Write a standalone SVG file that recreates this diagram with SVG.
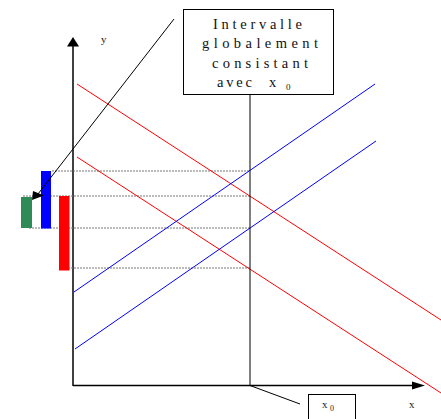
<svg xmlns="http://www.w3.org/2000/svg" width="441" height="419" viewBox="0 0 441 419">
<style>
.ax{stroke:#000;stroke-width:1.5;fill:none}
.ln{stroke:#000;stroke-width:1;fill:none}
.dot{stroke:#777;stroke-width:1;stroke-dasharray:2,1;fill:none}
.red{stroke:#ff0000;stroke-width:1;fill:none}
.blue{stroke:#0000ff;stroke-width:1;fill:none}
.t{font-family:"Liberation Serif","Times New Roman",serif;fill:#222}
.bt{font-family:"Liberation Serif","Times New Roman",serif;fill:#111}
</style>
<rect width="441" height="419" fill="#fff"/>
<g id="axes">
<line class="ax" x1="73" y1="386" x2="73" y2="45"/>
<polygon points="73,37 67,46.5 79,46.5" fill="#000"/>
<line class="ax" x1="73" y1="385.5" x2="414" y2="385.5"/>
<polygon points="425,385.5 412,381.5 412,389.5" fill="#000"/>
<text class="t" x="101" y="43" font-size="11">y</text>
<text class="t" x="409" y="408" font-size="11">x</text>
</g>
<g id="guides">
<line class="dot" x1="52" y1="171" x2="250" y2="171"/>
<line class="dot" x1="23" y1="196" x2="250" y2="196"/>
<line class="dot" x1="29" y1="228" x2="250" y2="228"/>
<line class="dot" x1="65" y1="268" x2="250" y2="268"/>
</g>
<g id="lines">
<line class="red" x1="77" y1="84" x2="441" y2="320"/>
<line class="red" x1="77" y1="157" x2="441" y2="393"/>
<line class="blue" x1="74" y1="292" x2="375" y2="84"/>
<line class="blue" x1="75" y1="349" x2="376" y2="141"/>
</g>
<g id="bars">
<rect id="green-bar" x="21" y="197" width="11" height="31" fill="#2e8b57"/>
<rect id="blue-bar" x="41" y="171" width="10" height="57.5" fill="#0000ff"/>
<rect id="red-bar" x="59" y="196" width="10.5" height="74.5" fill="#ff0000"/>
</g>
<g id="connectors">
<line class="ln" x1="250" y1="94.5" x2="250" y2="386"/>
<line class="ln" x1="250" y1="385.5" x2="300" y2="404"/>
<line class="ln" x1="174" y1="19" x2="38" y2="194"/>
<polygon points="32,200 33,191 44,195.5" fill="#000"/>
</g>
<g id="box-interval">
<rect x="183.5" y="9.5" width="150" height="85" fill="#fff" stroke="#000" stroke-width="1"/>
<text class="bt" x="213" y="28.5" font-size="14.5" textLength="89" lengthAdjust="spacing">Intervalle</text>
<text class="bt" x="202" y="48" font-size="14.5" textLength="116" lengthAdjust="spacing">globalement</text>
<text class="bt" x="212" y="67.5" font-size="14.5" textLength="96" lengthAdjust="spacing">consistant</text>
<text class="bt" x="217" y="87" font-size="14.5" textLength="35" lengthAdjust="spacing">avec</text>
<text class="bt" x="269" y="87" font-size="14.5">x</text>
<text class="bt" x="286" y="90" font-size="9">0</text>
</g>
<g id="box-x0">
<rect x="308.5" y="394.5" width="47" height="30" fill="#fff" stroke="#000" stroke-width="1"/>
<text class="t" x="322" y="408" font-size="11">x</text>
<text class="t" x="330" y="411" font-size="8">0</text>
</g>
</svg>
